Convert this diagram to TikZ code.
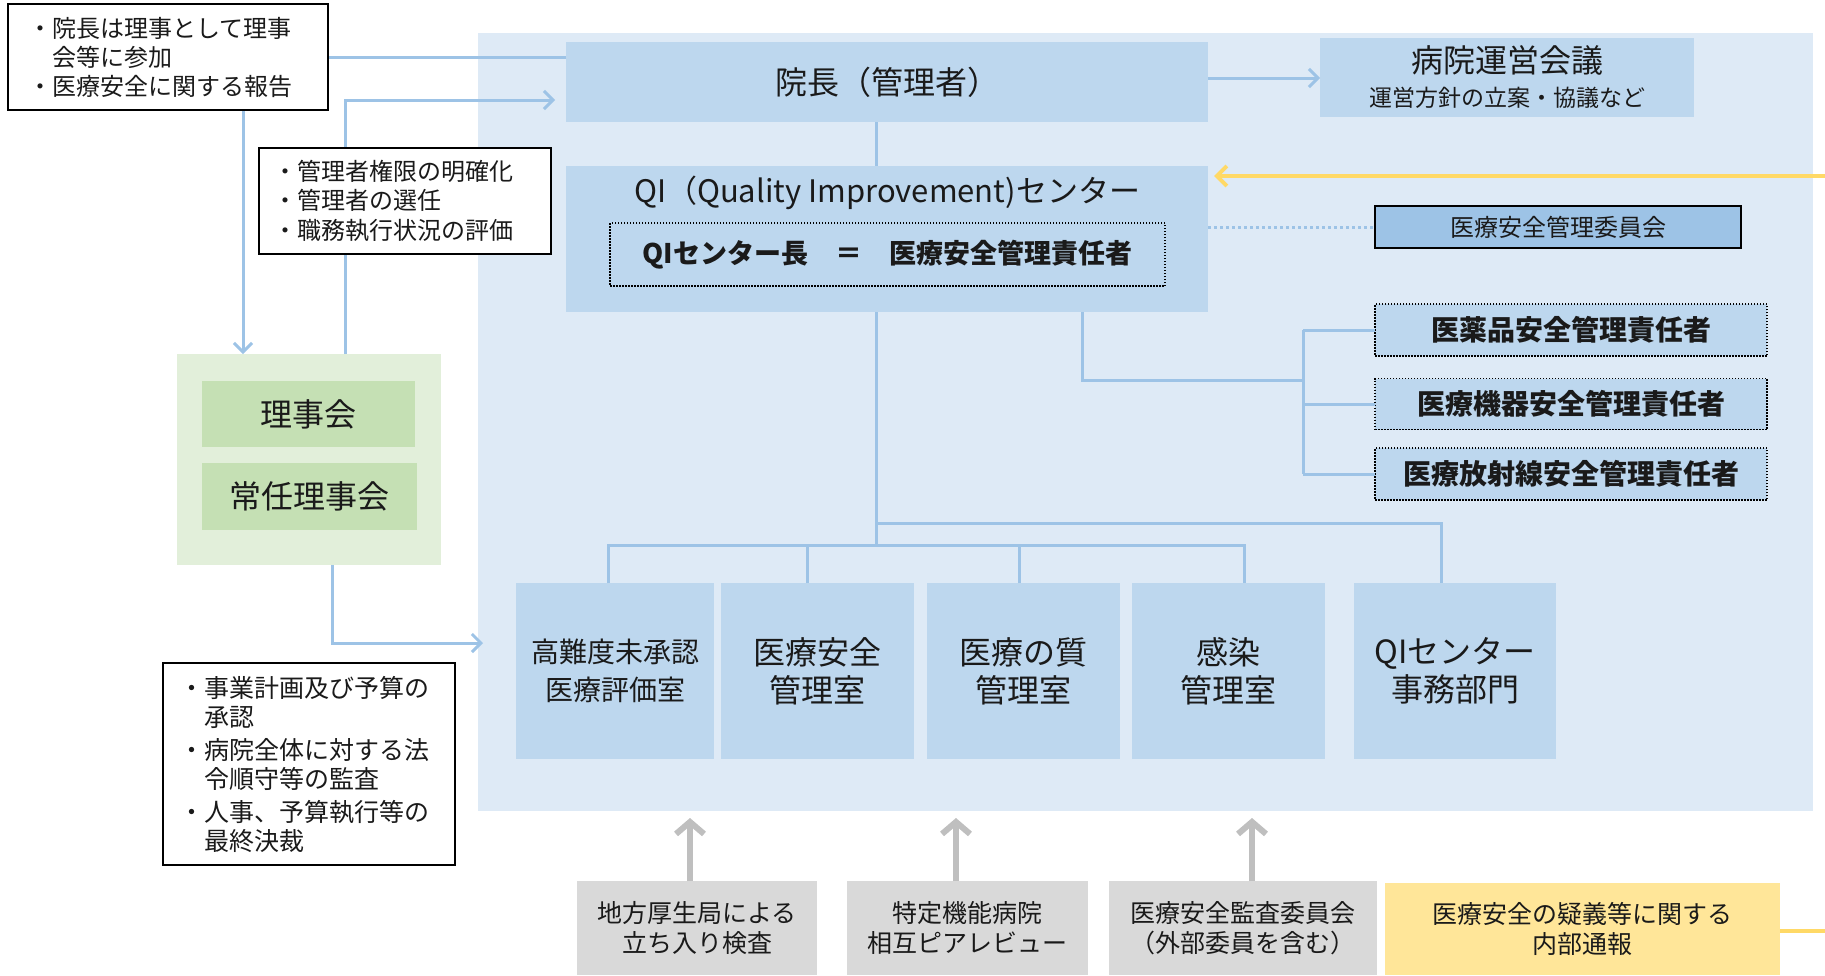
\documentclass[tikz,border=0pt]{standalone}
\usepackage{fontspec}
\setmainfont{Noto Sans CJK JP}
\usetikzlibrary{arrows.meta,calc}
\definecolor{panelc}{HTML}{DEEAF6}
\definecolor{boxc}{HTML}{BDD7EE}
\definecolor{comc}{HTML}{9DC3E6}
\definecolor{linec}{HTML}{9DC3E6}
\definecolor{gout}{HTML}{E2EFDA}
\definecolor{gin}{HTML}{C5E0B4}
\definecolor{grayc}{HTML}{D9D9D9}
\definecolor{grayl}{HTML}{BFBFBF}
\definecolor{ybox}{HTML}{FFE699}
\definecolor{yline}{HTML}{FFD966}
\definecolor{txt}{HTML}{1A1A1A}
\begin{document}
\begin{tikzpicture}[x=1pt,y=-1pt,
  every node/.style={inner sep=0pt, outer sep=0pt, text=txt},
  bx/.style={fill=boxc},
  ln/.style={draw=linec, line width=3pt},
  barb/.style={-{Straight Barb[length=9pt,width=18pt]}},
  note/.style={draw=black, line width=1.5pt, fill=white, align=left},
  resp/.style={fill=boxc, draw=black, line width=1.3pt, dash pattern=on 1.5pt off 1.5pt,
     minimum width=392, font=\bfseries\fontsize{28}{32}\selectfont},
  dept/.style={fill=boxc, minimum height=176, align=center, font=\fontsize{32}{38}\selectfont},
  ext/.style={fill=grayc, minimum height=94, align=center, font=\fontsize{25}{30}\selectfont},
  garrow/.style={draw=grayl, line width=6pt, -{Straight Barb[length=12pt,width=28pt]}}
]
\useasboundingbox (0,0) rectangle (1825,975);

% main panel
\node[fill=panelc, minimum width=1335, minimum height=778] (panel) at (1145.5,422) {};

% top boxes
\node[bx, minimum width=642, minimum height=80, font=\fontsize{32}{38}\selectfont] (inch) at (887,82) {院長（管理者）};
\node[bx, minimum width=374, minimum height=79, align=center, font=\fontsize{23}{34}\selectfont] (council) at (1507,77.5)
  {\fontsize{32}{34}\selectfont 病院運営会議\\運営方針の立案・協議など};

% QI center
\node[bx, minimum width=642, minimum height=146] (qi) at (887,239) {};
\node[font=\fontsize{31}{36}\selectfont] (qititle) at (887,193) {QI（Quality Improvement)センター};
\node[draw=black, line width=1.3pt, dash pattern=on 1.5pt off 1.5pt, minimum width=555, minimum height=63,
  font=\bfseries\fontsize{27}{32}\selectfont] (qihead) at (887.5,254.5) {QIセンター長　＝　医療安全管理責任者};

% committee
\node[fill=comc, draw=black, line width=1.5pt, minimum width=366, minimum height=42,
  font=\fontsize{24}{28}\selectfont] (com) at (1558,227) {医療安全管理委員会};

% responsible persons
\node[resp, minimum height=52] (r1) at (1571,330) {医薬品安全管理責任者};
\node[resp, minimum height=51] (r2) at (1571,404) {医療機器安全管理責任者};
\node[resp, minimum height=52] (r3) at (1571,474) {医療放射線安全管理責任者};

% departments
\node[dept, minimum width=198, font=\fontsize{28}{38}\selectfont] (d1) at (615,671) {高難度未承認\\医療評価室};
\node[dept, minimum width=193] (d2) at (817.5,671) {医療安全\\管理室};
\node[dept, minimum width=193] (d3) at (1023.5,671) {医療の質\\管理室};
\node[dept, minimum width=193] (d4) at (1228.5,671) {感染\\管理室};
\node[dept, minimum width=202] (d5) at (1455,671) {QIセンター\\事務部門};

% board
\node[fill=gout, minimum width=264, minimum height=211] (green) at (309,459.5) {};
\node[fill=gin, minimum width=213, minimum height=66, font=\fontsize{32}{38}\selectfont] (rij) at (308.5,414) {理事会};
\node[fill=gin, minimum width=215, minimum height=67, font=\fontsize{32}{38}\selectfont] (jonin) at (309.5,496.5) {常任理事会};

% external boxes
\node[ext, minimum width=240] (g1) at (697,928) {地方厚生局による\\立ち入り検査};
\node[ext, minimum width=241] (g2) at (967.5,928) {特定機能病院\\相互ピアレビュー};
\node[ext, minimum width=268] (g3) at (1243,928) {医療安全監査委員会\\（外部委員を含む）};
\node[ext, fill=ybox, minimum width=395, minimum height=92] (y1) at (1582.5,929) {医療安全の疑義等に関する\\内部通報};

% coordinates
\coordinate (yr) at (1825,176);
\coordinate (yb) at (1825,931);
\coordinate (rbar) at (1303,380);
\coordinate (ub) at (876,523);
\coordinate (lb) at (876,545);
\coordinate (ptgt) at (483,643);

% connectors (blue)
\draw[ln, barb] ([yshift=4pt]inch.east) -- ([yshift=4pt]inch.east -| council.west);
\draw[ln] ([xshift=-11pt]inch.south) -- ([xshift=-11pt]qi.north);
\draw[draw=linec, line width=3pt, dash pattern=on 3pt off 3pt] ([yshift=12pt]qi.east) -- (com.west);
\draw[ln] ([xshift=195pt]qi.south) |- (rbar);
\draw[ln] (r1.west -| rbar) -- (r3.west -| rbar);
\draw[ln] (r1.west -| rbar) -- (r1.west);
\draw[ln] (r2.west -| rbar) -- (r2.west);
\draw[ln] (r3.west -| rbar) -- (r3.west);
\draw[ln] ([xshift=-11pt]qi.south) -- (lb);
\draw[ln] (ub) -| ([xshift=-14pt]d5.north);
\draw[ln] ([xshift=-7pt]d1.north) |- (lb) -| ([xshift=15.5pt]d4.north);
\draw[ln] ([xshift=-10pt]d2.north) -- ([xshift=-10pt]d2.north |- lb);
\draw[ln] ([xshift=-4.5pt]d3.north) -- ([xshift=-4.5pt]d3.north |- lb);

% left side connectors
\draw[ln, barb] ([yshift=25pt]inch.west) -| ([xshift=-66pt]green.north);
\draw[ln, barb, shorten >=11pt] ([xshift=36pt]green.north) |- ([yshift=-18pt]inch.west);
\draw[ln, barb] ([xshift=23pt]green.south) |- (ptgt);

% yellow
\draw[draw=yline, line width=4pt, -{Straight Barb[length=10pt,width=20pt]}, shorten >=6pt] (yr) -- (qi.east |- yr);
\draw[draw=yline, line width=4pt] (y1.east |- yb) -- (yb);

% gray arrows
\draw[garrow, shorten >=7pt] ([xshift=-7pt]g1.north) -- ([xshift=-7pt]g1.north |- panel.south);
\draw[garrow, shorten >=7pt] ([xshift=-11.5pt]g2.north) -- ([xshift=-11.5pt]g2.north |- panel.south);
\draw[garrow, shorten >=7pt] ([xshift=9pt]g3.north) -- ([xshift=9pt]g3.north |- panel.south);

% notes
\node[note, text width=280, inner xsep=20pt, minimum height=106, font=\fontsize{24}{29}\selectfont] (noteA) at (168,57)
  {・院長は理事として理事\\\hspace*{1em}会等に参加\\・医療安全に関する報告};
\node[note, text width=264, inner xsep=14pt, minimum height=106, font=\fontsize{24}{29.5}\selectfont] (noteB) at (405,201)
  {・管理者権限の明確化\\・管理者の選任\\・職務執行状況の評価};
\node[note, text width=259, inner xsep=16.5pt, minimum height=202, font=\fontsize{25}{29}\selectfont] (noteC) at (309,764)
  {・事業計画及び予算の\\\hspace*{1em}承認\\[4pt]・病院全体に対する法\\\hspace*{1em}令順守等の監査\\[4pt]・人事、予算執行等の\\\hspace*{1em}最終決裁};
\end{tikzpicture}
\end{document}
